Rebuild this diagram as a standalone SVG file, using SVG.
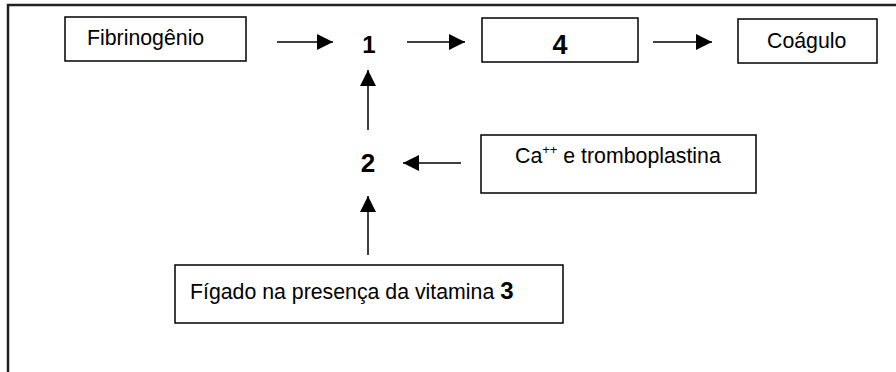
<svg xmlns="http://www.w3.org/2000/svg" width="896" height="372" viewBox="0 0 896 372">
<style>
.box{fill:#fff;stroke:#000;stroke-width:1.5}
.t{font-family:"Liberation Sans",Arial,sans-serif;font-size:21.3px;fill:#000}
.n{font-family:"Liberation Sans",Arial,sans-serif;font-weight:bold;fill:#000;text-anchor:middle}
.c{stroke:#000;stroke-width:1.5;fill:none;marker-end:url(#ah)}
</style>
<defs>
<marker id="ah" markerUnits="userSpaceOnUse" markerWidth="17" markerHeight="17" refX="16" refY="8" orient="auto">
<path d="M0,0 L16,8 L0,16 z" fill="#000"/>
</marker>
</defs>
<rect width="896" height="372" fill="#fff"/>
<path d="M8,372 V5 H896" fill="none" stroke="#222" stroke-width="2.5"/>
<g id="fibrinogenio"><rect class="box" x="65" y="17" width="181" height="44"/><text class="t" x="87" y="45">Fibrinogênio</text></g>
<g id="n1"><text class="n" x="369" y="53" font-size="24">1</text></g>
<g id="n4"><rect class="box" x="482" y="18" width="156" height="44"/><text class="n" x="560" y="54" font-size="27">4</text></g>
<g id="coagulo"><rect class="box" x="738" y="19" width="139" height="44"/><text class="t" x="767" y="48">Coágulo</text></g>
<g id="n2"><text class="n" x="368" y="172" font-size="26">2</text></g>
<g id="ca"><rect class="box" x="481" y="135" width="275" height="58"/><text class="t" x="515" y="163">Ca<tspan font-size="13" dy="-9">++</tspan><tspan dy="9"> e tromboplastina</tspan></text></g>
<g id="figado"><rect class="box" x="175" y="265" width="388" height="58"/><text class="t" x="190" y="299">Fígado na presença da vitamina <tspan font-weight="bold" font-size="24">3</tspan></text></g>
<g id="connectors">
<line class="c" x1="277" y1="42" x2="333" y2="42"/>
<line class="c" x1="407" y1="42" x2="465" y2="42"/>
<line class="c" x1="653" y1="42" x2="712" y2="42"/>
<line class="c" x1="461" y1="163" x2="403" y2="163"/>
<line class="c" x1="368" y1="130" x2="368" y2="70"/>
<line class="c" x1="368" y1="255" x2="368" y2="196"/>
</g>
</svg>
